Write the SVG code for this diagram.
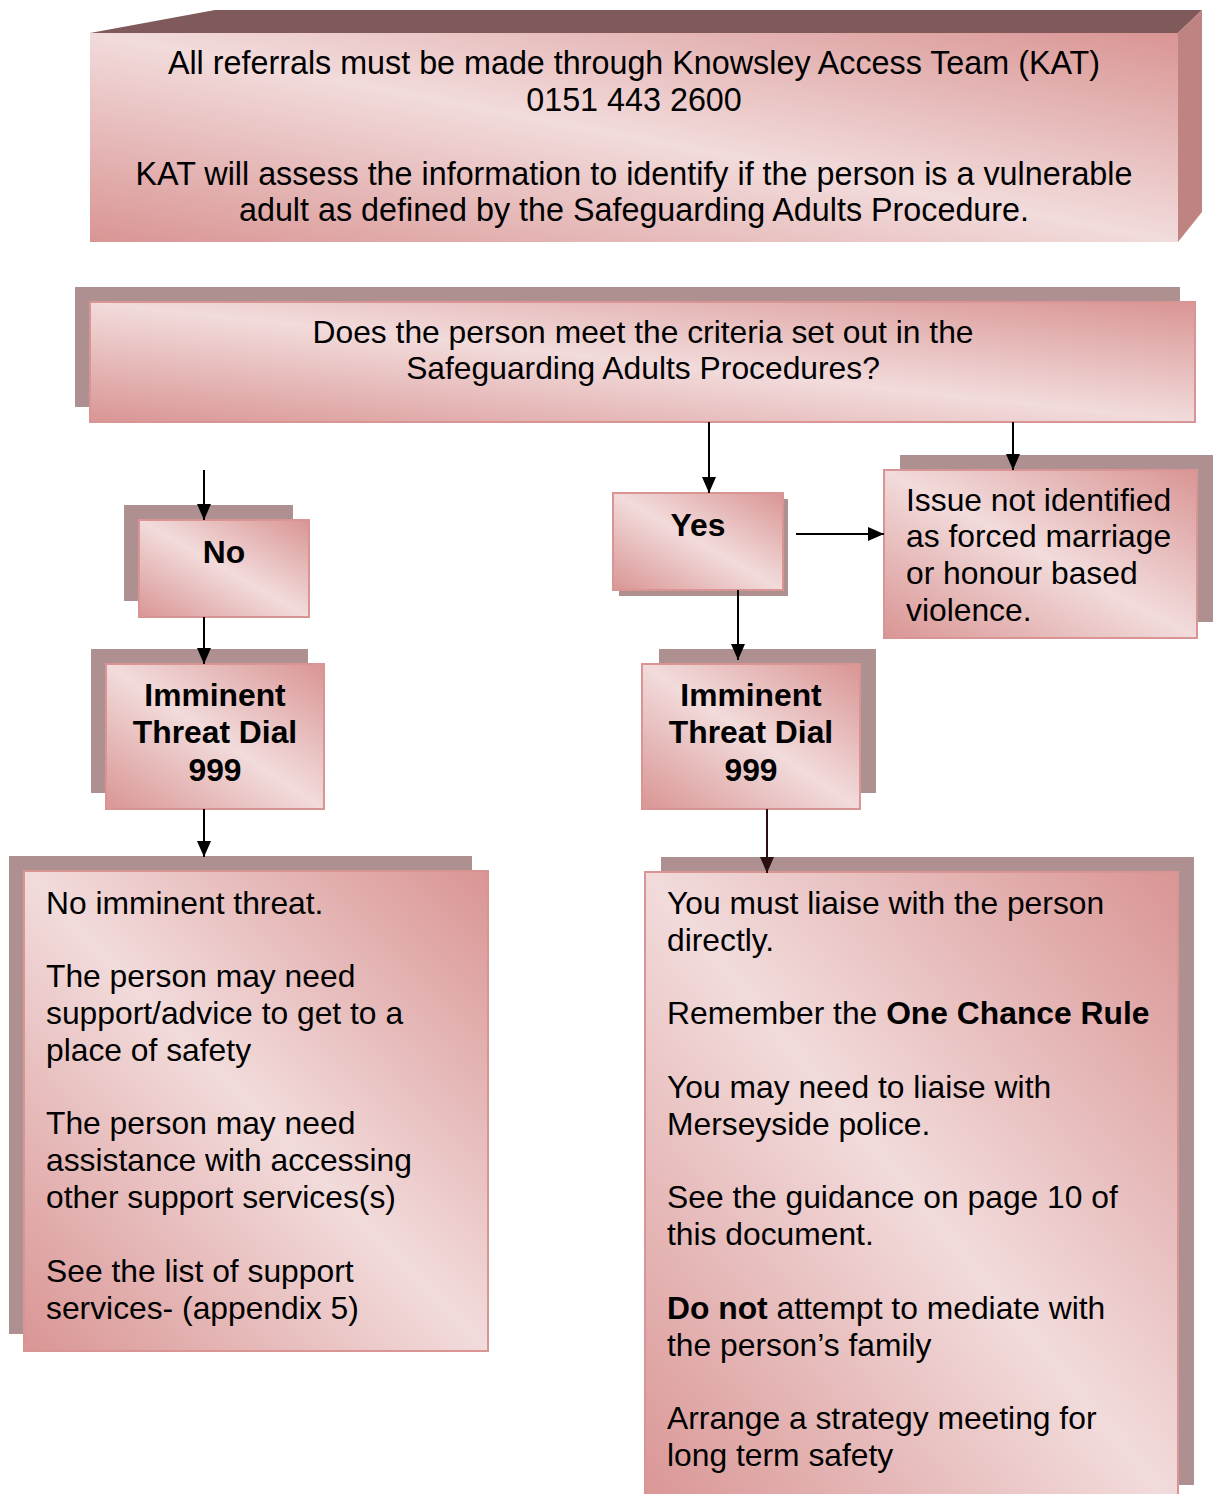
<svg xmlns="http://www.w3.org/2000/svg" width="1213" height="1494" viewBox="0 0 1213 1494">
<defs>
<linearGradient id="pink" x1="0" y1="1" x2="1" y2="0">
<stop offset="0" stop-color="#d99594"/>
<stop offset="0.5" stop-color="#f2dbdb"/>
<stop offset="1" stop-color="#d99594"/>
</linearGradient>
<marker id="ah" viewBox="0 0 16 14" refX="16" refY="7" markerWidth="16" markerHeight="14" markerUnits="userSpaceOnUse" orient="auto">
<path d="M0,0 L16,7 L0,14 z" fill="#000"/>
</marker>
<marker id="ahd" viewBox="0 0 16 14" refX="16" refY="7" markerWidth="16" markerHeight="14" markerUnits="userSpaceOnUse" orient="auto">
<path d="M0,0 L16,7 L0,14 z" fill="#2a1010"/>
</marker>
</defs>
<style>
.sh{fill:#ae9090}
.fr{fill:url(#pink);stroke:#d99594;stroke-width:2}
.t{font-family:"Liberation Sans",Arial,sans-serif;font-size:31.8px;fill:#000}
.big{font-size:32.3px}
.c{text-anchor:middle}
.b{font-weight:bold}
.ln{stroke:#000;stroke-width:2;fill:none;marker-end:url(#ah)}
.lnd{stroke:#2a1010;stroke-width:2;fill:none;marker-end:url(#ahd)}
</style>
<rect width="1213" height="1494" fill="#fff"/>

<g id="kat">
<polygon points="90,33 215,10 1202,10 1178,33" fill="#805a5a"/>
<polygon points="1178,33 1202,10 1202,212 1178,242" fill="#bf8382"/>
<rect x="90" y="33" width="1088" height="209" fill="url(#pink)"/>
<text class="t c big" x="634" y="74">All referrals must be made through Knowsley Access Team (KAT)</text>
<text class="t c big" x="634" y="111">0151 443 2600</text>
<text class="t c big" x="634" y="185">KAT will assess the information to identify if the person is a vulnerable</text>
<text class="t c big" x="634" y="221">adult as defined by the Safeguarding Adults Procedure.</text>
</g>

<g id="criteria">
<rect class="sh" x="75" y="287" width="1105" height="120"/>
<rect class="fr" x="90" y="302" width="1105" height="120"/>
<text class="t c" x="643" y="343">Does the person meet the criteria set out in the</text>
<text class="t c" x="643" y="379">Safeguarding Adults Procedures?</text>
</g>

<g id="no">
<rect class="sh" x="124" y="505" width="169" height="96"/>
<rect class="fr" x="139" y="520" width="170" height="97"/>
<text class="t c b" x="224" y="563">No</text>
</g>

<g id="threat-left">
<rect class="sh" x="91" y="649" width="217" height="144"/>
<rect class="fr" x="106" y="664" width="218" height="145"/>
<text class="t c b" x="215" y="706">Imminent</text>
<text class="t c b" x="215" y="743">Threat Dial</text>
<text class="t c b" x="215" y="781">999</text>
</g>

<g id="no-threat">
<rect class="sh" x="9" y="856" width="463" height="478"/>
<rect class="fr" x="24" y="871" width="464" height="480"/>
<text class="t" x="46" y="914">No imminent threat.</text>
<text class="t" x="46" y="987">The person may need</text>
<text class="t" x="46" y="1024">support/advice to get to a</text>
<text class="t" x="46" y="1061">place of safety</text>
<text class="t" x="46" y="1134">The person may need</text>
<text class="t" x="46" y="1171">assistance with accessing</text>
<text class="t" x="46" y="1208">other support services(s)</text>
<text class="t" x="46" y="1282">See the list of support</text>
<text class="t" x="46" y="1319">services- (appendix 5)</text>
</g>

<g id="yes">
<rect class="sh" x="619" y="499" width="169" height="97"/>
<rect class="fr" x="613" y="493" width="170" height="97"/>
<text class="t c b" x="698" y="536">Yes</text>
</g>

<g id="issue">
<rect class="sh" x="900" y="455" width="313" height="167"/>
<rect class="fr" x="884" y="470" width="313" height="168"/>
<text class="t" x="906" y="511">Issue not identified</text>
<text class="t" x="906" y="547">as forced marriage</text>
<text class="t" x="906" y="584">or honour based</text>
<text class="t" x="906" y="621">violence.</text>
</g>

<g id="threat-right">
<rect class="sh" x="659" y="649" width="217" height="144"/>
<rect class="fr" x="642" y="664" width="218" height="145"/>
<text class="t c b" x="751" y="706">Imminent</text>
<text class="t c b" x="751" y="743">Threat Dial</text>
<text class="t c b" x="751" y="781">999</text>
</g>

<g id="liaise">
<rect class="sh" x="661" y="857" width="533" height="628"/>
<rect class="fr" x="645" y="872" width="533" height="640"/>
<text class="t" x="667" y="914">You must liaise with the person</text>
<text class="t" x="667" y="951">directly.</text>
<text class="t" x="667" y="1024">Remember the <tspan class="b">One Chance Rule</tspan></text>
<text class="t" x="667" y="1098">You may need to liaise with</text>
<text class="t" x="667" y="1135">Merseyside police.</text>
<text class="t" x="667" y="1208">See the guidance on page 10 of</text>
<text class="t" x="667" y="1245">this document.</text>
<text class="t" x="667" y="1319"><tspan class="b">Do not</tspan> attempt to mediate with</text>
<text class="t" x="667" y="1356">the person’s family</text>
<text class="t" x="667" y="1429">Arrange a strategy meeting for</text>
<text class="t" x="667" y="1466">long term safety</text>
</g>

<g id="connectors">
<line class="ln" x1="204" y1="470" x2="204" y2="520"/>
<line class="ln" x1="204" y1="617" x2="204" y2="664"/>
<line class="ln" x1="204" y1="809" x2="204" y2="857"/>
<line class="ln" x1="709" y1="422" x2="709" y2="493"/>
<line class="ln" x1="1013" y1="422" x2="1013" y2="470"/>
<line class="ln" x1="796" y1="534" x2="884" y2="534"/>
<line class="ln" x1="738" y1="590" x2="738" y2="660"/>
<line class="lnd" x1="767" y1="809" x2="767" y2="873"/>
</g>
</svg>
